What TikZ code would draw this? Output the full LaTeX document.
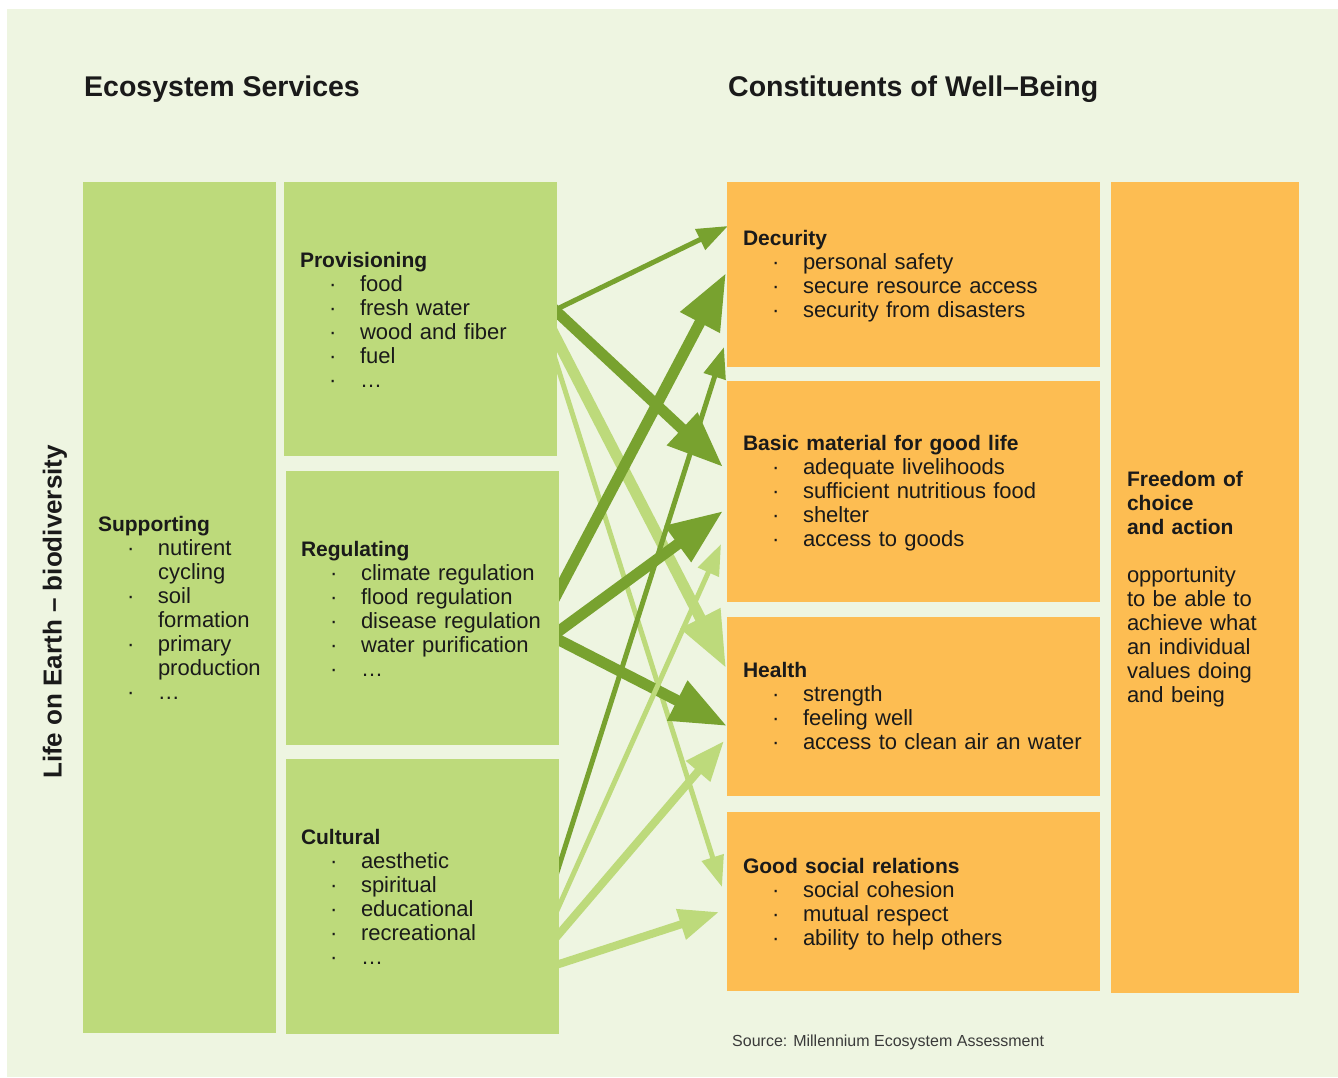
\documentclass[tikz,border=0pt]{standalone}
\usepackage{fontspec}
\setmainfont{Liberation Sans}
\usetikzlibrary{arrows.meta,calc}
\definecolor{pagebg}{HTML}{EEF5E1}
\definecolor{boxgreen}{HTML}{BDDA7B}
\definecolor{boxorange}{HTML}{FDBD52}
\definecolor{arrdark}{HTML}{78A22F}
\definecolor{arrlight}{HTML}{BDDA7B}
\definecolor{ink}{HTML}{1A1A1A}
\definecolor{srcgray}{HTML}{3A3A3A}
\pgfdeclarelayer{bglayer}
\pgfdeclarelayer{arrowlayer}
\pgfsetlayers{bglayer,arrowlayer,main}
\newcommand\bitem[1]{\hspace*{29pt}\makebox[31pt][l]{·}#1}
\newcommand\cont[1]{\hspace*{60pt}#1}
\newcommand\hd[1]{\rule{0pt}{17pt}{\fontsize{21}{24}\selectfont\bfseries #1}}
\begin{document}
\lineskiplimit=-20pt
\begin{tikzpicture}[x=1pt,y=-1pt,
  box/.style={anchor=north west, inner sep=0pt, outer sep=0pt, draw=none},
  gbox/.style={box, fill=boxgreen},
  obox/.style={box, fill=boxorange},
  txt/.style={anchor=north west, inner sep=0pt, outer sep=0pt, text width=420pt, align=left,
    font=\fontsize{22}{24}\selectfont, text=ink},
  title/.style={anchor=base west, inner sep=0pt, font=\fontsize{28.5}{34}\selectfont\bfseries, text=ink},
  arr/.style={shorten <=-14pt},
  thickA/.style={arr, line width=11pt, -{Triangle[length=56pt,width=42pt]}},
  medA/.style={arr, line width=8pt, -{Triangle[length=40pt,width=30pt]}},
  thinA/.style={arr, line width=5pt, -{Triangle[length=31pt,width=22pt]}},
  dk/.style={draw=arrdark},
  lt/.style={draw=arrlight}
]
\useasboundingbox (0,0) rectangle (1338,1077);
\begin{pgfonlayer}{bglayer}
  \fill[pagebg] (7,9) rectangle (1338,1077);
\end{pgfonlayer}

% titles
\node[title] (tes) at (84,96) {Ecosystem Services};
\node[title] (twb) at (728,96) {Constituents of Well–Being};

% boxes
\node[gbox, minimum width=193pt, minimum height=851pt] (supp) at (83,182) {};
\node[gbox, minimum width=273pt, minimum height=274pt] (prov) at (284,182) {};
\node[gbox, minimum width=273pt, minimum height=274pt] (reg) at (286,471) {};
\node[gbox, minimum width=273pt, minimum height=275pt] (cult) at (286,759) {};
\node[obox, minimum width=373pt, minimum height=185pt] (dec) at (727,182) {};
\node[obox, minimum width=373pt, minimum height=221pt] (basic) at (727,381) {};
\node[obox, minimum width=373pt, minimum height=179pt] (health) at (727,617) {};
\node[obox, minimum width=373pt, minimum height=179pt] (good) at (727,812) {};
\node[obox, minimum width=188pt, minimum height=811pt] (free) at (1111,182) {};

% rotated label
\node[rotate=90, inner sep=0pt, font=\fontsize{26}{30}\selectfont\bfseries, text=ink] (life) at (55,612) {Life on Earth – biodiversity};

% texts
\node[txt] (tsupp) at (98,514) {\hd{Supporting}\\
\bitem{nutirent}\\ \cont{cycling}\\ \bitem{soil}\\ \cont{formation}\\ \bitem{primary}\\ \cont{production}\\ \bitem{…}};
\node[txt] (tprov) at (300,250) {\hd{Provisioning}\\
\bitem{food}\\ \bitem{fresh water}\\ \bitem{wood and fiber}\\ \bitem{fuel}\\ \bitem{…}};
\node[txt] (treg) at (301,539) {\hd{Regulating}\\
\bitem{climate regulation}\\ \bitem{flood regulation}\\ \bitem{disease regulation}\\ \bitem{water purification}\\ \bitem{…}};
\node[txt] (tcult) at (301,827) {\hd{Cultural}\\
\bitem{aesthetic}\\ \bitem{spiritual}\\ \bitem{educational}\\ \bitem{recreational}\\ \bitem{…}};
\node[txt] (tdec) at (743,228) {\hd{Decurity}\\
\bitem{personal safety}\\ \bitem{secure resource access}\\ \bitem{security from disasters}};
\node[txt] (tbasic) at (743,433) {\hd{Basic material for good life}\\
\bitem{adequate livelihoods}\\ \bitem{sufficient nutritious food}\\ \bitem{shelter}\\ \bitem{access to goods}};
\node[txt] (thealth) at (743,660) {\hd{Health}\\
\bitem{strength}\\ \bitem{feeling well}\\ \bitem{access to clean air an water}};
\node[txt] (tgood) at (743,856) {\hd{Good social relations}\\
\bitem{social cohesion}\\ \bitem{mutual respect}\\ \bitem{ability to help others}};
\node[txt] (tfree) at (1127,469) {\hd{Freedom of}\\ \hd{choice}\\ \hd{and action}\\[24pt]
opportunity\\ to be able to\\ achieve what\\ an individual\\ values doing\\ and being};

\node[anchor=base west, inner sep=0pt, font=\fontsize{16}{19}\selectfont, text=srcgray] (src) at (732,1046) {Source: Millennium Ecosystem Assessment};

% arrows
\begin{pgfonlayer}{arrowlayer}
  % from Provisioning
  \draw[thinA, dk] ($(prov.north east)+(0,127)$) -- ($(dec.north west)+(1,44)$);
  \draw[thickA, dk] ($(prov.north east)+(0,130)$) -- ($(basic.north west)+(-4,86)$);
  \draw[thickA, lt] ($(prov.north east)+(0,158)$) -- ($(health.north west)+(-1,51)$);
  \draw[thinA, lt] ($(prov.north east)+(0,183)$) -- ($(good.north west)+(-5,75)$);
  % from Regulating
  \draw[thickA, dk] ($(reg.north east)+(0,119)$) -- ($(dec.north west)+(-1,91)$);
  \draw[thickA, dk] ($(reg.north east)+(0,160)$) -- ($(basic.north west)+(-4,130)$);
  \draw[thickA, dk] ($(reg.north east)+(0,169)$) -- ($(health.north west)+(0,109)$);
  % from Cultural
  \draw[thinA, dk] ($(cult.north east)+(0,107)$) -- ($(dec.north west)+(-3,165)$);
  \draw[thinA, lt] ($(cult.north east)+(0,147)$) -- ($(basic.north west)+(-6,163)$);
  \draw[medA, lt] ($(cult.north east)+(0,175)$) -- ($(health.north west)+(-3,124)$);
  \draw[medA, lt] ($(cult.north east)+(0,205)$) -- ($(good.north west)+(-8,100)$);
\end{pgfonlayer}
\end{tikzpicture}
\end{document}
